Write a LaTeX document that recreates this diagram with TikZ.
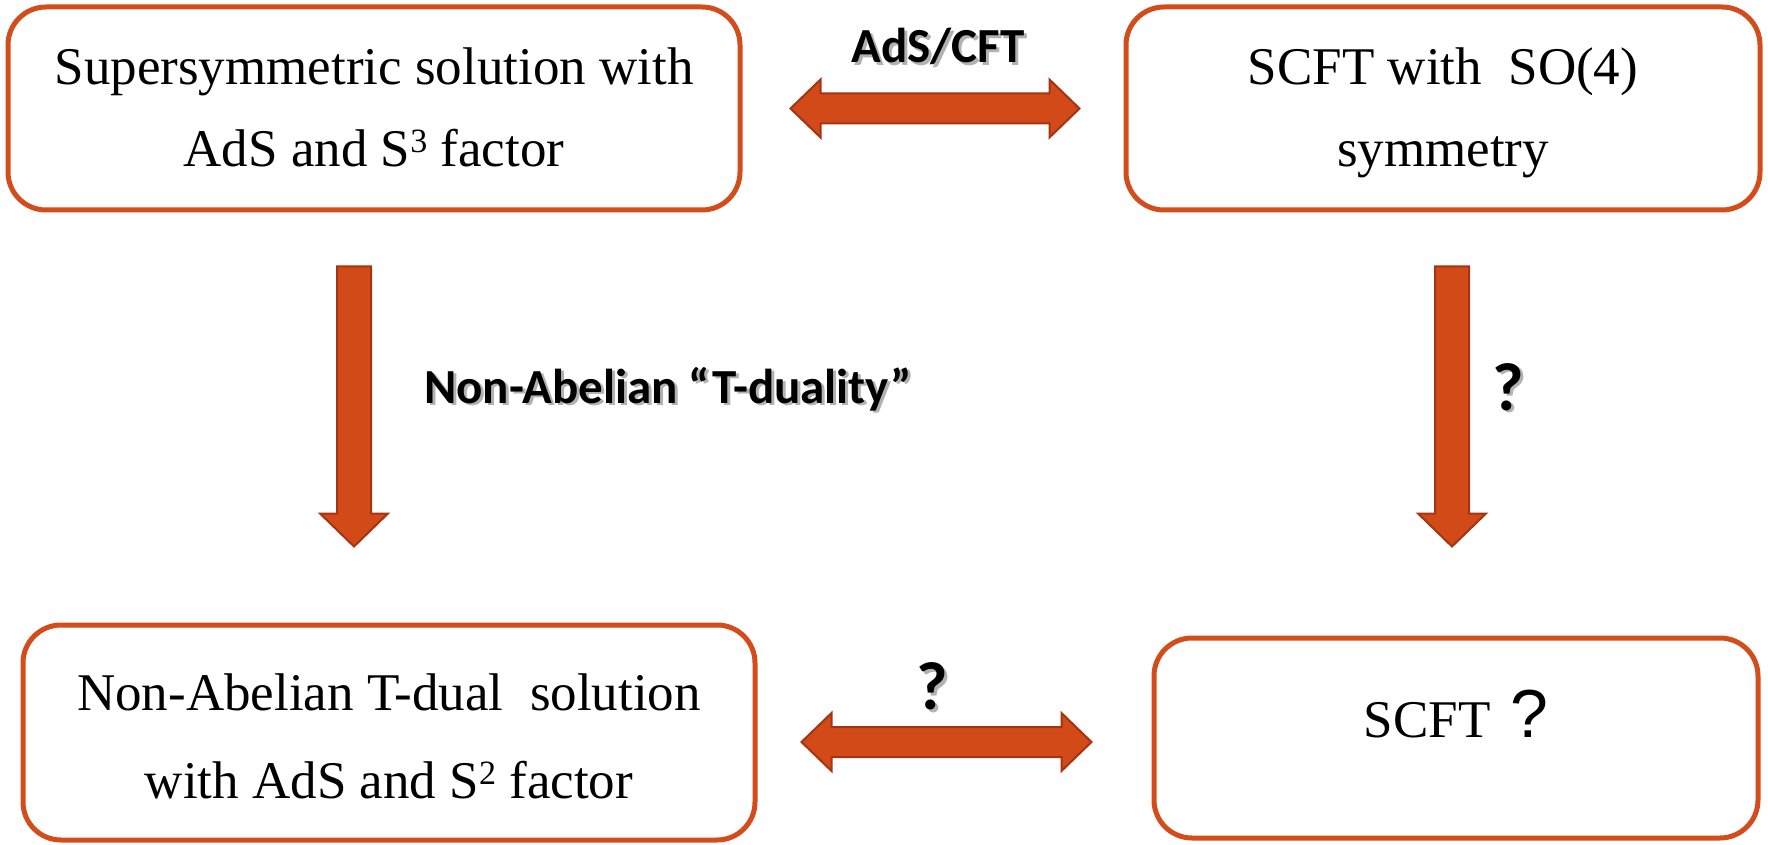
\documentclass[tikz,border=0pt]{standalone}
\usepackage{fontspec}
\setmainfont{Liberation Serif}
\newfontfamily\calib{Carlito}
\newfontfamily\qsans{Liberation Sans}
\usetikzlibrary{calc}
\definecolor{boxline}{RGB}{212,76,28}
\definecolor{arrfill}{RGB}{210,74,24}
\definecolor{arrline}{RGB}{165,52,18}
\newcommand\shd[1]{\rlap{\hspace{1.5pt}\raisebox{-1.5pt}{\textcolor{black!30}{#1}}}#1}
\newcommand\supx[1]{\raisebox{7pt}{\fontsize{17}{18}\selectfont #1}}
\newcommand\hdarrow[2]{\draw[blk] (#1) -- ($(#1)+(30,-29)$) -- ($(#1)+(30,-15)$) -- ($(#2)+(-30,-15)$) -- ($(#2)+(-30,-29)$) -- (#2) -- ($(#2)+(-30,29)$) -- ($(#2)+(-30,15)$) -- ($(#1)+(30,15)$) -- ($(#1)+(30,29)$) -- cycle;}
\newcommand\vdarrow[2]{\draw[blk] ($(#1)+(-17,0)$) -- ($(#2)+(-17,-33)$) -- ($(#2)+(-34,-33)$) -- (#2) -- ($(#2)+(34,-33)$) -- ($(#2)+(17,-33)$) -- ($(#1)+(17,0)$) -- cycle;}
\begin{document}
\begin{tikzpicture}[x=0.5pt,y=-0.5pt,
  box/.style={draw=boxline, line width=2.5pt, rounded corners=19pt, fill=white, align=center, inner sep=0pt},
  blk/.style={fill=arrfill, draw=arrline, line width=1pt, line join=miter},
  lab/.style={font=\calib\bfseries\fontsize{24.5}{28}\selectfont, inner sep=0pt, anchor=base},
  qlab/.style={font=\calib\bfseries\fontsize{34}{40}\selectfont, inner sep=0pt, anchor=base}]
\useasboundingbox (0,0) rectangle (1768,845);

\node[box, minimum width=366pt, minimum height=101.5pt, text height=59pt, text depth=0.5pt, font=\fontsize{26.5}{41}\selectfont] (tl) at (374,108.5) {Supersymmetric solution with\\AdS and S\supx{3} factor};
\node[box, minimum width=317pt, minimum height=101.5pt, text height=59pt, text depth=0.5pt, font=\fontsize{26.5}{41}\selectfont] (tr) at (1443,108.5) {SCFT with\ \ SO(4)\\symmetry};
\node[box, minimum width=366pt, minimum height=107.5pt, text height=65.5pt, text depth=0pt, font=\fontsize{26.5}{44}\selectfont] (bl) at (389,732.5) {Non-Abelian T-dual\ \ solution\\with AdS and S\supx{2} factor};
\node[box, minimum width=302pt, minimum height=100pt, text height=18pt, text depth=19pt, font=\fontsize{26.5}{41}\selectfont] (br) at (1456,738) {SCFT\hspace{10pt}{\qsans\fontsize{34}{40}\selectfont ?}};

\coordinate (a1l) at ($(tl.east)+(48,0)$);
\coordinate (a1r) at ($(tr.west)+(-44,0)$);
\coordinate (a2l) at ($(bl.east)+(44,9.5)$);
\coordinate (a2r) at ($(br.west)+(-60,4)$);
\coordinate (v1t) at ($(tl.south)+(-20,54)$);
\coordinate (v1b) at ($(bl.north)+(-35,-76)$);
\coordinate (v2t) at ($(tr.south)+(9,54)$);
\coordinate (v2b) at ($(br.north)+(-4,-89)$);

\hdarrow{a1l}{a1r}
\hdarrow{a2l}{a2r}
\vdarrow{v1t}{v1b}
\vdarrow{v2t}{v2b}

\node[lab] (adscft) at (938,63) {\shd{AdS/CFT}};
\node[lab] (nat) at (668,403) {\shd{Non-Abelian “T-duality”}};
\node[qlab] (q1) at (1508,410) {\shd{?}};
\node[qlab] (q2) at (932,709) {\shd{?}};
\end{tikzpicture}
\end{document}
